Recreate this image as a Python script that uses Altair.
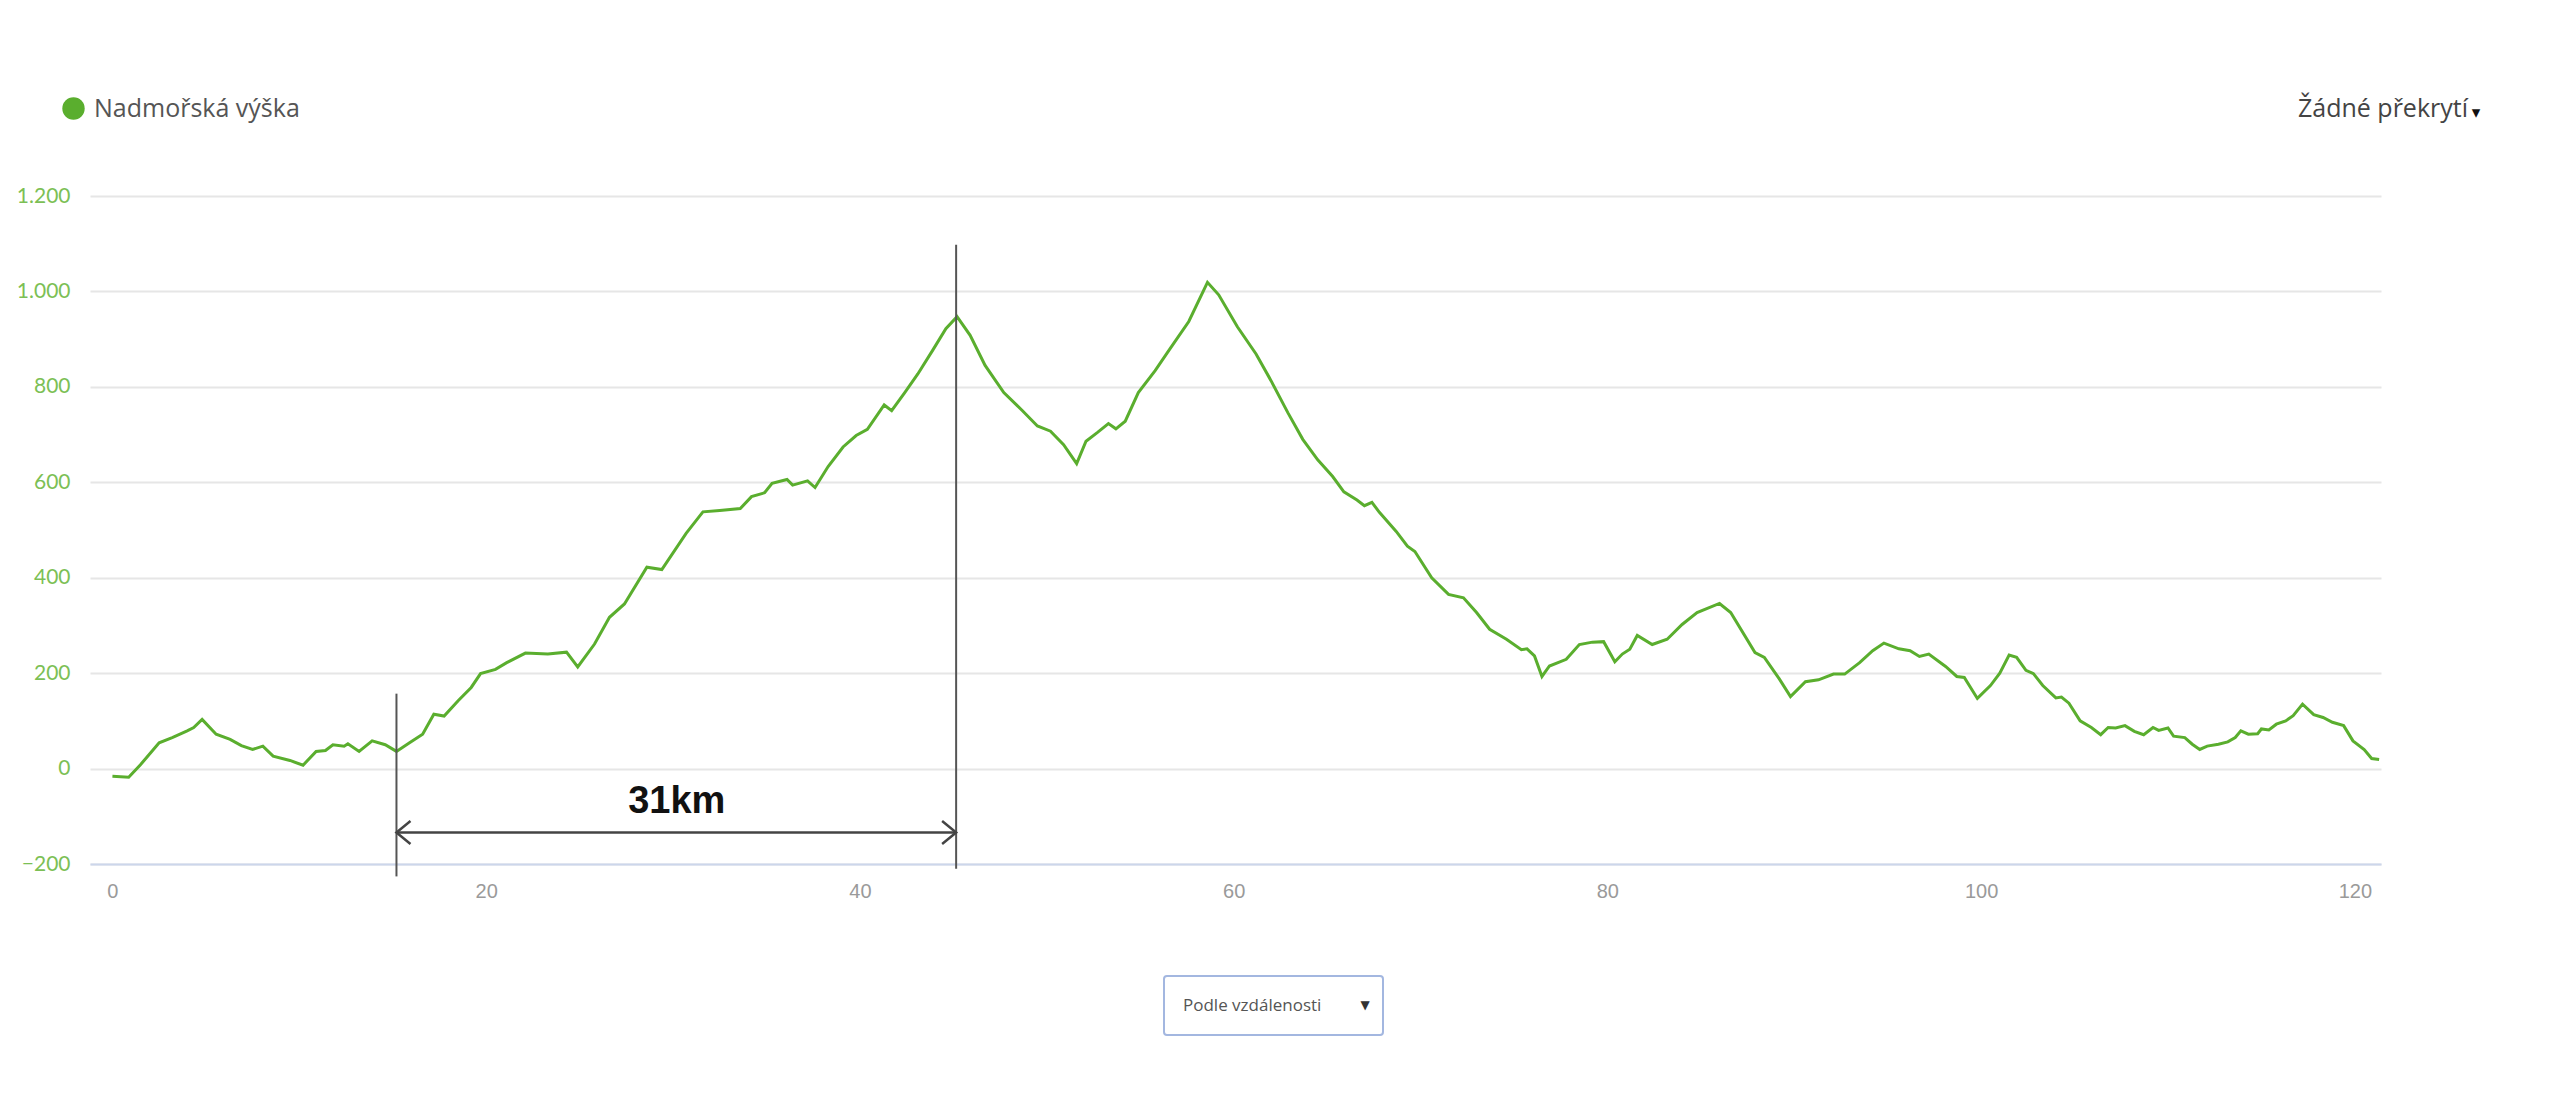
import altair as alt
import pandas as pd

# ---------------- data ----------------
km = [0, 0.87, 1.5, 2.5, 3.2, 4.0, 4.35, 4.8, 5.55, 6.3, 6.9, 7.5, 8.05, 8.6, 9.5, 10.2,
      10.9, 11.4, 11.8, 12.4, 12.6, 13.2, 13.9, 14.6, 15.2, 15.9, 16.6, 17.2, 17.75, 18.5,
      19.2, 19.7, 20.5, 21.1, 22.1, 23.3, 24.3, 24.9, 25.8, 26.6, 27.4, 28.6, 29.4, 30.7,
      31.6, 32.5, 33.6, 34.2, 34.9, 35.3, 36.1, 36.4, 37.2, 37.6, 38.3, 39.1, 39.8, 40.4,
      41.3, 41.7, 42.4, 43.1, 43.9, 44.6, 45.2, 45.9, 46.7, 47.7, 48.7, 49.5, 50.2, 50.9,
      51.6, 52.1, 52.7, 53.3, 53.7, 54.2, 54.9, 55.8, 56.6, 57.6, 58.6, 59.2, 60.2, 61.2,
      62.0, 62.9, 63.7, 64.5, 65.3, 65.9, 66.6, 67.0, 67.4, 67.8, 68.7, 69.3, 69.7, 70.6,
      71.5, 72.3, 73.0, 73.7, 74.6, 75.4, 75.7, 76.1, 76.5, 76.9, 77.8, 78.5, 79.2, 79.8,
      80.4, 80.8, 81.2, 81.6, 82.4, 83.2, 84.0, 84.8, 86.0, 86.6, 87.9, 88.4, 89.2, 89.8,
      90.6, 91.3, 92.1, 92.7, 93.5, 94.2, 94.8, 95.6, 96.2, 96.7, 97.2, 98.1, 98.7, 99.1,
      99.8, 100.5, 101.0, 101.5, 101.9, 102.4, 102.8, 103.3, 104.0, 104.3, 104.7, 105.3,
      105.9, 106.4, 106.8, 107.2, 107.7, 108.2, 108.7, 109.2, 109.5, 110.0, 110.3, 110.9,
      111.3, 111.7, 112.1, 112.7, 113.2, 113.6, 113.9, 114.3, 114.8, 115.0, 115.4, 115.8,
      116.3, 116.7, 117.2, 117.8, 118.3, 118.8, 119.4, 119.9, 120.5, 120.9, 121.3]
elev = [-16, -18, 8, 54, 65, 79, 86, 103, 72, 61, 48, 40, 47, 26, 17, 7,
        36, 38, 50, 47, 52, 36, 58, 50, 36, 54, 72, 114, 110, 142,
        170, 199, 208, 222, 242, 240, 244, 213, 261, 317, 345, 422, 417, 493,
        538, 541, 545, 570, 578, 598, 606, 594, 603, 589, 633, 674, 698, 711,
        762, 750, 788, 827, 877, 922, 947, 908, 845, 788, 750, 718, 707, 679,
        639, 686, 704, 723, 712, 728, 788, 834, 880, 937, 1019, 993, 926, 869,
        813, 746, 690, 647, 612, 580, 563, 551, 558, 537, 497, 466, 455, 400,
        365, 358, 327, 292, 271, 249, 251, 236, 193, 215, 229, 260, 265, 266,
        224, 240, 250, 279, 260, 271, 302, 327, 346, 327, 243, 233, 188, 151,
        182, 186, 198, 198, 222, 247, 263, 251, 247, 235, 240, 214, 193, 191,
        147, 174, 200, 238, 233, 206, 199, 174, 148, 150, 137, 100,
        86, 71, 86, 85, 90, 78, 71, 86, 80, 85, 68, 65,
        51, 40, 47, 51, 56, 65, 79, 72, 73, 83, 81, 93,
        100, 111, 135, 113, 107, 97, 90, 58, 40, 21, 19]

series_name = "Nadmořská výška"
overlay_label = "Žádné překrytí"
overlay_arrow = "▾"
dropdown_label = "Podle vzdálenosti"
dropdown_arrow = "▼"

span_label = "31km"
span_start_km = 15.2
span_end_km = 45.15
span_arrow_elev = -134
span_label_km = 30.2
span_label_elev = -70
left_marker_top, left_marker_bottom = 157, -226
right_marker_top, right_marker_bottom = 1098, -210

x_ticks = [0, 20, 40, 60, 80, 100, 120]
y_ticks = [-200, 0, 200, 400, 600, 800, 1000, 1200]

# ---------------- style ----------------
W, H = 2291, 668
GREEN = "#5aae2e"
LABEL_GREEN = "#7cbf55"

x_scale = alt.Scale(domain=[-1.2, 121.4], nice=False, zero=False)
y_scale = alt.Scale(domain=[-200, 1200], nice=False, zero=False)

df = pd.DataFrame({"km": km, "elev": elev, "serie": series_name})

line = alt.Chart(df).mark_line(strokeWidth=3).encode(
    x=alt.X("km:Q", scale=x_scale,
            axis=alt.Axis(values=x_ticks, title=None, grid=False, ticks=False,
                          domainColor="#ccd6eb", domainWidth=2,
                          labelFont="Liberation Sans", labelFontSize=20,
                          labelColor="#9a9a9a", labelPadding=17)),
    y=alt.Y("elev:Q", scale=y_scale,
            axis=alt.Axis(values=y_ticks, title=None, domain=False, ticks=False,
                          gridColor="#e6e6e6", gridWidth=2,
                          labelColor=LABEL_GREEN, labelFont="Lato", labelFontSize=21,
                          labelPadding=20,
                          labelExpr="replace(format(datum.value, ','), ',', '.')")),
    color=alt.Color("serie:N", scale=alt.Scale(domain=[series_name], range=[GREEN]),
                    legend=alt.Legend(title=None, orient="none", legendX=-29, legendY=-100,
                                      symbolType="circle", symbolSize=500,
                                      symbolFillColor=GREEN, symbolStrokeColor=GREEN,
                                      symbolStrokeWidth=0, symbolOpacity=1,
                                      labelFont="Open Sans", labelFontSize=25,
                                      labelColor="#555555", labelOffset=8, padding=0,
                                      labelLimit=0)),
)

# annotation: markers and arrow
markers = pd.DataFrame({
    "km": [span_start_km, span_end_km],
    "top": [left_marker_top, right_marker_top],
    "bottom": [left_marker_bottom, right_marker_bottom],
})
marker_rules = alt.Chart(markers).mark_rule(color="#555555", strokeWidth=2).encode(
    x=alt.X("km:Q", scale=x_scale), y=alt.Y("top:Q", scale=y_scale), y2="bottom:Q")

head_dx, head_dy = 0.75, 24
arrow_pts = []
for seg, pts in enumerate([
    [(span_start_km, span_arrow_elev), (span_end_km, span_arrow_elev)],
    [(span_start_km + head_dx, span_arrow_elev + head_dy), (span_start_km, span_arrow_elev),
     (span_start_km + head_dx, span_arrow_elev - head_dy)],
    [(span_end_km - head_dx, span_arrow_elev + head_dy), (span_end_km, span_arrow_elev),
     (span_end_km - head_dx, span_arrow_elev - head_dy)],
]):
    for i, (a, b) in enumerate(pts):
        arrow_pts.append({"seg": seg, "order": i, "km": a, "elev": b})
arrow_df = pd.DataFrame(arrow_pts)
arrow = alt.Chart(arrow_df).mark_line(color="#444444", strokeWidth=2.5).encode(
    x=alt.X("km:Q", scale=x_scale), y=alt.Y("elev:Q", scale=y_scale),
    detail="seg:N", order="order:Q")

span_text = alt.Chart(pd.DataFrame({"km": [span_label_km], "elev": [span_label_elev],
                                    "t": [span_label]})).mark_text(
    font="Liberation Sans", fontWeight="bold", fontSize=38, color="#111111",
    align="center", baseline="middle").encode(
    x=alt.X("km:Q", scale=x_scale), y=alt.Y("elev:Q", scale=y_scale), text="t:N")

# top-right overlay selector text
overlay = alt.Chart(pd.DataFrame({"t": [overlay_label]})).mark_text(
    font="Open Sans", fontSize=25, color="#444444", align="right", baseline="middle").encode(
    x=alt.value(2378), y=alt.value(-87), text="t:N")
overlay_tri = alt.Chart(pd.DataFrame({"t": [overlay_arrow]})).mark_text(
    font="DejaVu Sans", fontSize=17, color="#111111", align="center", baseline="middle").encode(
    x=alt.value(2386), y=alt.value(-83), text="t:N")

# bottom dropdown
box = alt.Chart(pd.DataFrame({"t": [dropdown_label]})).mark_rect(
    fill="white", stroke="#a3b7e0", strokeWidth=2, cornerRadius=3).encode(
    x=alt.value(1074), x2=alt.value(1293), y=alt.value(780), y2=alt.value(839))
box_text = alt.Chart(pd.DataFrame({"t": [dropdown_label]})).mark_text(
    font="Open Sans", fontSize=17, color="#555555", align="left", baseline="middle").encode(
    x=alt.value(1093), y=alt.value(810), text="t:N")
box_arrow = alt.Chart(pd.DataFrame({"t": [dropdown_arrow]})).mark_text(
    font="DejaVu Sans", fontSize=12, color="#333333", align="center", baseline="middle").encode(
    x=alt.value(1275), y=alt.value(809), text="t:N")

chart = alt.layer(line, marker_rules, arrow, span_text, overlay, overlay_tri,
                  box, box_text, box_arrow).properties(
    width=W, height=H,
    autosize=alt.AutoSizeParams(type="none"),
    padding={"left": 82, "top": 188, "right": 160, "bottom": 190},
    background="white",
).configure_view(stroke=None)

chart.save("out.html", embed_options={"renderer": "svg", "actions": False})
